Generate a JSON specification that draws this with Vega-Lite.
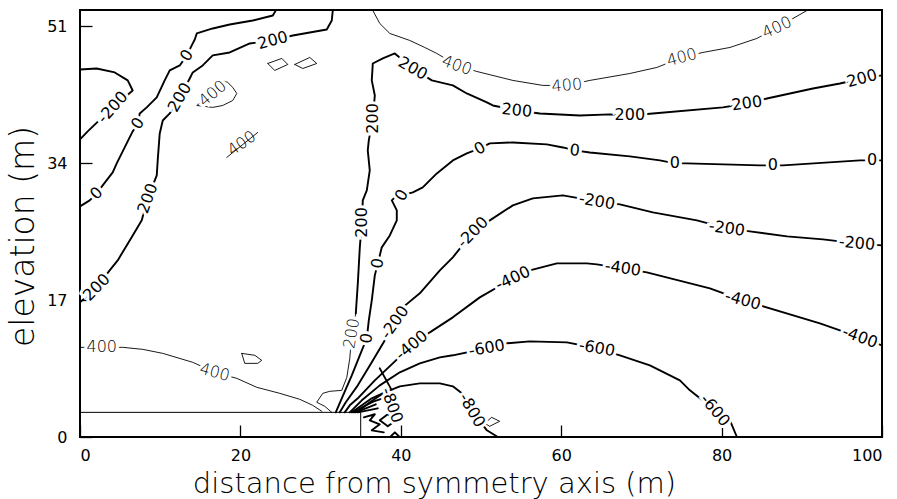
{
  "$schema": "https://vega.github.io/schema/vega-lite/v6.json",
  "width": 802,
  "height": 427,
  "autosize": {"type": "none"},
  "padding": {"left": 80, "top": 10, "right": 15, "bottom": 62},
  "background": "white",
  "config": {
    "view": {"stroke": "black", "strokeWidth": 2},
    "axis": {
      "grid": false,
      "domain": false,
      "tickColor": "black",
      "tickWidth": 1.3,
      "tickSize": -12,
      "labelColor": "black",
      "labelFont": "DejaVu Sans",
      "labelFontSize": 16,
      "titleColor": "black",
      "titleFont": "DejaVu Sans",
      "titleFontWeight": 200
    }
  },
  "datasets": {
    "box": [{"x": 0, "x2": 35, "y": 0, "y2": 3.06}],
    "contours": [
      {"line": "A", "x": 0, "y": 45.62}, {"line": "A", "x": 2.08, "y": 45.74}, {"line": "A", "x": 4.33, "y": 45.25}, {"line": "A", "x": 5.95, "y": 44.26}, {"line": "A", "x": 6.57, "y": 43.01}, {"line": "A", "x": 4.08, "y": 40.91}, {"line": "A", "x": 0.96, "y": 37.93}, {"line": "A", "x": 0, "y": 36.94},
      {"line": "B", "x": 24.41, "y": 52.94}, {"line": "B", "x": 24.04, "y": 52.32}, {"line": "B", "x": 21.54, "y": 51.7}, {"line": "B", "x": 18.67, "y": 51.2}, {"line": "B", "x": 16.55, "y": 50.71}, {"line": "B", "x": 14.56, "y": 50.09}, {"line": "B", "x": 14.31, "y": 49.34}, {"line": "B", "x": 14.06, "y": 48.85}, {"line": "B", "x": 13.31, "y": 47.36}, {"line": "B", "x": 12.44, "y": 46.12}, {"line": "B", "x": 11.19, "y": 45.5}, {"line": "B", "x": 10.56, "y": 44.26}, {"line": "B", "x": 9.57, "y": 42.15}, {"line": "B", "x": 8.32, "y": 40.91}, {"line": "B", "x": 7.45, "y": 40.16}, {"line": "B", "x": 7.2, "y": 38.92}, {"line": "B", "x": 6.57, "y": 37.93}, {"line": "B", "x": 5.82, "y": 36.44}, {"line": "B", "x": 4.58, "y": 33.96}, {"line": "B", "x": 4.08, "y": 32.84}, {"line": "B", "x": 2.83, "y": 31.23}, {"line": "B", "x": 2.08, "y": 30.24}, {"line": "B", "x": 1.21, "y": 29.37}, {"line": "B", "x": 0, "y": 28.62},
      {"line": "C", "x": 31.52, "y": 52.94}, {"line": "C", "x": 31.39, "y": 51.7}, {"line": "C", "x": 30.77, "y": 50.58}, {"line": "C", "x": 28.65, "y": 50.21}, {"line": "C", "x": 26.53, "y": 49.84}, {"line": "C", "x": 24.04, "y": 49.22}, {"line": "C", "x": 21.17, "y": 48.85}, {"line": "C", "x": 18.67, "y": 47.73}, {"line": "C", "x": 16.55, "y": 47.36}, {"line": "C", "x": 15.3, "y": 46.12}, {"line": "C", "x": 14.06, "y": 45.25}, {"line": "C", "x": 13.68, "y": 44.5}, {"line": "C", "x": 12.44, "y": 42.15}, {"line": "C", "x": 11.19, "y": 40.16}, {"line": "C", "x": 10.32, "y": 39.29}, {"line": "C", "x": 9.94, "y": 37.68}, {"line": "C", "x": 9.69, "y": 34.33}, {"line": "C", "x": 9.57, "y": 32.47}, {"line": "C", "x": 8.44, "y": 29.62}, {"line": "C", "x": 7.7, "y": 26.89}, {"line": "C", "x": 6.2, "y": 24.4}, {"line": "C", "x": 4.7, "y": 21.92}, {"line": "C", "x": 3.7, "y": 20.68}, {"line": "C", "x": 2.08, "y": 18.57}, {"line": "C", "x": 0, "y": 16.71},
      {"line": "D", "x": 17.67, "y": 44.26}, {"line": "D", "x": 18.42, "y": 44.01}, {"line": "D", "x": 19.05, "y": 43.39}, {"line": "D", "x": 19.55, "y": 42.64}, {"line": "D", "x": 19.05, "y": 41.77}, {"line": "D", "x": 17.8, "y": 41.15}, {"line": "D", "x": 16.55, "y": 40.91}, {"line": "D", "x": 14.56, "y": 41.15}, {"line": "D", "x": 16.55, "y": 42.64}, {"line": "D", "x": 17.67, "y": 44.26},
      {"line": "E", "x": 18.3, "y": 34.7}, {"line": "E", "x": 22.16, "y": 37.8},
      {"line": "dia1", "x": 23.41, "y": 46.36}, {"line": "dia1", "x": 25.16, "y": 46.99}, {"line": "dia1", "x": 25.91, "y": 46.24}, {"line": "dia1", "x": 24.28, "y": 45.5}, {"line": "dia1", "x": 23.41, "y": 46.36},
      {"line": "dia2", "x": 26.78, "y": 46.24}, {"line": "dia2", "x": 28.65, "y": 47.11}, {"line": "dia2", "x": 29.52, "y": 46.36}, {"line": "dia2", "x": 27.78, "y": 45.74}, {"line": "dia2", "x": 26.78, "y": 46.24},
      {"line": "loop1", "x": 20.17, "y": 10.38}, {"line": "loop1", "x": 21.79, "y": 10.14}, {"line": "loop1", "x": 22.66, "y": 9.52}, {"line": "loop1", "x": 22.16, "y": 9.14}, {"line": "loop1", "x": 20.54, "y": 9.14}, {"line": "loop1", "x": 20.17, "y": 10.38},
      {"line": "F", "x": 0, "y": 11.13}, {"line": "F", "x": 5.33, "y": 11.13}, {"line": "F", "x": 7.82, "y": 10.88}, {"line": "F", "x": 10.32, "y": 10.38}, {"line": "F", "x": 14.06, "y": 9.27}, {"line": "F", "x": 16.8, "y": 8.03}, {"line": "F", "x": 19.55, "y": 7.28}, {"line": "F", "x": 22.04, "y": 6.17}, {"line": "F", "x": 24.91, "y": 5.42}, {"line": "F", "x": 27.4, "y": 4.68}, {"line": "F", "x": 29.02, "y": 3.93}, {"line": "F", "x": 30.15, "y": 3.19},
      {"line": "H", "x": 36.51, "y": 52.94}, {"line": "H", "x": 37.38, "y": 51.33}, {"line": "H", "x": 38.63, "y": 50.09}, {"line": "H", "x": 41.12, "y": 49.22}, {"line": "H", "x": 42.99, "y": 48.35}, {"line": "H", "x": 44.49, "y": 47.61}, {"line": "H", "x": 46.99, "y": 46.12}, {"line": "H", "x": 49.48, "y": 45.37}, {"line": "H", "x": 53.97, "y": 44.26}, {"line": "H", "x": 57.71, "y": 43.64}, {"line": "H", "x": 60.71, "y": 43.64}, {"line": "H", "x": 63.57, "y": 44.26}, {"line": "H", "x": 68.56, "y": 45.12}, {"line": "H", "x": 71.93, "y": 45.87}, {"line": "H", "x": 75.05, "y": 47.11}, {"line": "H", "x": 77.67, "y": 47.73}, {"line": "H", "x": 81.04, "y": 48.35}, {"line": "H", "x": 84.4, "y": 49.47}, {"line": "H", "x": 86.9, "y": 50.83}, {"line": "H", "x": 89.77, "y": 52.44}, {"line": "H", "x": 90.64, "y": 52.94},
      {"line": "G", "x": 100, "y": 44.88}, {"line": "G", "x": 97.5, "y": 44.5}, {"line": "G", "x": 94.76, "y": 43.88}, {"line": "G", "x": 91.39, "y": 43.26}, {"line": "G", "x": 85.65, "y": 42.02}, {"line": "G", "x": 83.16, "y": 41.4}, {"line": "G", "x": 80.16, "y": 40.91}, {"line": "G", "x": 71.43, "y": 40.16}, {"line": "G", "x": 68.56, "y": 39.91}, {"line": "G", "x": 66.07, "y": 40.04}, {"line": "G", "x": 62.33, "y": 39.91}, {"line": "G", "x": 57.34, "y": 40.16}, {"line": "G", "x": 54.47, "y": 40.53}, {"line": "G", "x": 51.48, "y": 41.15}, {"line": "G", "x": 50.73, "y": 41.53}, {"line": "G", "x": 48.23, "y": 42.64}, {"line": "G", "x": 46.49, "y": 43.64}, {"line": "G", "x": 43.87, "y": 44.26}, {"line": "G", "x": 41.5, "y": 45.74}, {"line": "G", "x": 39.25, "y": 47.61}, {"line": "G", "x": 37.76, "y": 46.99}, {"line": "G", "x": 36.51, "y": 46.36}, {"line": "G", "x": 36.38, "y": 44.26}, {"line": "G", "x": 36.76, "y": 42.39}, {"line": "G", "x": 36.51, "y": 39.54}, {"line": "G", "x": 36.01, "y": 36.81}, {"line": "G", "x": 35.88, "y": 35.57}, {"line": "G", "x": 36.13, "y": 33.09}, {"line": "G", "x": 35.76, "y": 30.61}, {"line": "G", "x": 35.26, "y": 29.37}, {"line": "G", "x": 35.14, "y": 26.64}, {"line": "G", "x": 34.89, "y": 23.54}, {"line": "G", "x": 34.64, "y": 19.07}, {"line": "G", "x": 34.39, "y": 15.35},
      {"line": "G2", "x": 34.39, "y": 15.35}, {"line": "G2", "x": 33.89, "y": 12.87}, {"line": "G2", "x": 33.64, "y": 9.76}, {"line": "G2", "x": 33.27, "y": 7.41}, {"line": "G2", "x": 32.64, "y": 5.79}, {"line": "G2", "x": 31.14, "y": 5.67}, {"line": "G2", "x": 30.27, "y": 5.42}, {"line": "G2", "x": 29.52, "y": 4.31}, {"line": "G2", "x": 30.52, "y": 3.81}, {"line": "G2", "x": 31.39, "y": 3.06},
      {"line": "I", "x": 100, "y": 34.33}, {"line": "I", "x": 98.75, "y": 34.33}, {"line": "I", "x": 97.25, "y": 34.33}, {"line": "I", "x": 87.65, "y": 33.71}, {"line": "I", "x": 86.4, "y": 33.71}, {"line": "I", "x": 84.78, "y": 33.71}, {"line": "I", "x": 75.67, "y": 33.96}, {"line": "I", "x": 74.18, "y": 33.96}, {"line": "I", "x": 72.31, "y": 34.33}, {"line": "I", "x": 68.56, "y": 34.83}, {"line": "I", "x": 63.57, "y": 35.32}, {"line": "I", "x": 61.7, "y": 35.57}, {"line": "I", "x": 60.21, "y": 35.94}, {"line": "I", "x": 58.21, "y": 36.32}, {"line": "I", "x": 53.97, "y": 36.56}, {"line": "I", "x": 51.1, "y": 36.44}, {"line": "I", "x": 49.85, "y": 35.82}, {"line": "I", "x": 48.23, "y": 35.2}, {"line": "I", "x": 46.49, "y": 34.33}, {"line": "I", "x": 44.49, "y": 32.72}, {"line": "I", "x": 42.74, "y": 30.98}, {"line": "I", "x": 41.5, "y": 30.36}, {"line": "I", "x": 40.12, "y": 29.99}, {"line": "I", "x": 39.25, "y": 29.74}, {"line": "I", "x": 38.88, "y": 29.37}, {"line": "I", "x": 39.5, "y": 28.13}, {"line": "I", "x": 39.5, "y": 26.89}, {"line": "I", "x": 38.63, "y": 25.02}, {"line": "I", "x": 37.63, "y": 23.54}, {"line": "I", "x": 37.13, "y": 21.55}, {"line": "I", "x": 36.76, "y": 20.06}, {"line": "I", "x": 36.38, "y": 16.96}, {"line": "I", "x": 36.01, "y": 14.48}, {"line": "I", "x": 35.76, "y": 12.25}, {"line": "I", "x": 35.14, "y": 10.76}, {"line": "I", "x": 33.89, "y": 7.66}, {"line": "I", "x": 32.64, "y": 4.8}, {"line": "I", "x": 31.89, "y": 3.06},
      {"line": "J", "x": 100, "y": 23.78}, {"line": "J", "x": 96.88, "y": 24.03}, {"line": "J", "x": 92.64, "y": 24.53}, {"line": "J", "x": 88.15, "y": 24.9}, {"line": "J", "x": 83.53, "y": 25.52}, {"line": "J", "x": 80.66, "y": 25.89}, {"line": "J", "x": 76.92, "y": 26.89}, {"line": "J", "x": 71.43, "y": 27.88}, {"line": "J", "x": 67.32, "y": 28.87}, {"line": "J", "x": 64.45, "y": 29.24}, {"line": "J", "x": 60.21, "y": 29.99}, {"line": "J", "x": 56.46, "y": 29.62}, {"line": "J", "x": 53.97, "y": 28.75}, {"line": "J", "x": 51.1, "y": 26.89}, {"line": "J", "x": 48.98, "y": 25.4}, {"line": "J", "x": 46.49, "y": 22.3}, {"line": "J", "x": 44.87, "y": 20.68}, {"line": "J", "x": 42.37, "y": 17.83}, {"line": "J", "x": 40.25, "y": 16.09}, {"line": "J", "x": 39.25, "y": 14.23}, {"line": "J", "x": 38.01, "y": 12.0}, {"line": "J", "x": 36.38, "y": 9.27}, {"line": "J", "x": 34.64, "y": 6.41}, {"line": "J", "x": 33.14, "y": 4.31}, {"line": "J", "x": 32.39, "y": 3.06},
      {"line": "K", "x": 100, "y": 11.38}, {"line": "K", "x": 97.25, "y": 12.37}, {"line": "K", "x": 92.26, "y": 14.11}, {"line": "K", "x": 84.78, "y": 16.34}, {"line": "K", "x": 82.66, "y": 16.96}, {"line": "K", "x": 78.54, "y": 18.45}, {"line": "K", "x": 70.68, "y": 20.43}, {"line": "K", "x": 67.69, "y": 20.93}, {"line": "K", "x": 64.45, "y": 21.43}, {"line": "K", "x": 63.2, "y": 21.55}, {"line": "K", "x": 59.46, "y": 21.55}, {"line": "K", "x": 56.09, "y": 20.68}, {"line": "K", "x": 53.97, "y": 19.69}, {"line": "K", "x": 49.85, "y": 17.33}, {"line": "K", "x": 46.49, "y": 14.85}, {"line": "K", "x": 43.62, "y": 12.99}, {"line": "K", "x": 41.37, "y": 11.38}, {"line": "K", "x": 39.0, "y": 9.14}, {"line": "K", "x": 36.76, "y": 7.03}, {"line": "K", "x": 34.64, "y": 4.8}, {"line": "K", "x": 33.64, "y": 3.93}, {"line": "K", "x": 33.01, "y": 3.06},
      {"line": "L", "x": 33.64, "y": 3.06}, {"line": "L", "x": 35.14, "y": 4.55}, {"line": "L", "x": 37.38, "y": 6.41}, {"line": "L", "x": 39.88, "y": 8.03}, {"line": "L", "x": 42.37, "y": 9.14}, {"line": "L", "x": 44.87, "y": 9.89}, {"line": "L", "x": 46.49, "y": 10.14}, {"line": "L", "x": 50.73, "y": 11.01}, {"line": "L", "x": 53.22, "y": 11.63}, {"line": "L", "x": 56.09, "y": 11.87}, {"line": "L", "x": 60.71, "y": 11.75}, {"line": "L", "x": 64.45, "y": 11.01}, {"line": "L", "x": 67.32, "y": 10.14}, {"line": "L", "x": 71.06, "y": 8.9}, {"line": "L", "x": 74.8, "y": 7.03}, {"line": "L", "x": 76.05, "y": 5.79}, {"line": "L", "x": 79.17, "y": 3.31}, {"line": "L", "x": 81.04, "y": 2.07}, {"line": "L", "x": 81.91, "y": 0},
      {"line": "M", "x": 34.89, "y": 3.31}, {"line": "M", "x": 36.13, "y": 4.31}, {"line": "M", "x": 38.01, "y": 5.55}, {"line": "M", "x": 39.88, "y": 6.29}, {"line": "M", "x": 42.37, "y": 6.66}, {"line": "M", "x": 44.87, "y": 6.66}, {"line": "M", "x": 46.49, "y": 6.29}, {"line": "M", "x": 47.61, "y": 5.42}, {"line": "M", "x": 48.86, "y": 3.31}, {"line": "M", "x": 50.73, "y": 0.83}, {"line": "M", "x": 52.1, "y": 0},
      {"line": "N1", "x": 33.89, "y": 3.06}, {"line": "N1", "x": 35.14, "y": 3.93}, {"line": "N1", "x": 36.38, "y": 4.8}, {"line": "N1", "x": 38.01, "y": 5.55},
      {"line": "N2", "x": 34.14, "y": 3.06}, {"line": "N2", "x": 35.39, "y": 3.81}, {"line": "N2", "x": 36.63, "y": 4.43}, {"line": "N2", "x": 38.13, "y": 4.92},
      {"line": "N3", "x": 34.39, "y": 3.06}, {"line": "N3", "x": 35.64, "y": 3.56}, {"line": "N3", "x": 36.88, "y": 4.06},
      {"line": "N4", "x": 34.64, "y": 3.06}, {"line": "N4", "x": 35.89, "y": 3.31}, {"line": "N4", "x": 37.13, "y": 3.56},
      {"line": "hook", "x": 35.39, "y": 2.44}, {"line": "hook", "x": 36.76, "y": 2.82}, {"line": "hook", "x": 36.13, "y": 2.07}, {"line": "hook", "x": 37.38, "y": 1.58}, {"line": "hook", "x": 36.38, "y": 0.83}, {"line": "hook", "x": 37.88, "y": 0.58},
      {"line": "dia3", "x": 37.38, "y": 2.07}, {"line": "dia3", "x": 38.38, "y": 2.82}, {"line": "dia3", "x": 39.38, "y": 2.07}, {"line": "dia3", "x": 38.38, "y": 1.32}, {"line": "dia3", "x": 37.38, "y": 2.07},
      {"line": "slash", "x": 37.38, "y": 8.52}, {"line": "slash", "x": 38.88, "y": 5.79},
      {"line": "caret", "x": 38.76, "y": 0.09}, {"line": "caret", "x": 39.26, "y": 0.58}, {"line": "caret", "x": 39.76, "y": 0.09},
      {"line": "dia4", "x": 50.46, "y": 1.7}, {"line": "dia4", "x": 51.33, "y": 2.44}, {"line": "dia4", "x": 52.33, "y": 1.95}, {"line": "dia4", "x": 51.08, "y": 1.33}, {"line": "dia4", "x": 50.46, "y": 1.7}
    ],
    "labelsThick": [
      {"text": "-200", "x": 4.08, "y": 40.91, "angle": -48},
      {"text": "0", "x": 13.31, "y": 47.36, "angle": -55},
      {"text": "0", "x": 7.2, "y": 38.92, "angle": -55},
      {"text": "0", "x": 2.08, "y": 30.24, "angle": -45},
      {"text": "200", "x": 24.04, "y": 49.22, "angle": -15},
      {"text": "200", "x": 12.44, "y": 42.15, "angle": -60},
      {"text": "200", "x": 8.44, "y": 29.62, "angle": -70},
      {"text": "200", "x": 2.08, "y": 18.57, "angle": -45},
      {"text": "200", "x": 97.5, "y": 44.5, "angle": -15},
      {"text": "200", "x": 83.16, "y": 41.4, "angle": -8},
      {"text": "200", "x": 68.56, "y": 39.91, "angle": 0},
      {"text": "200", "x": 54.47, "y": 40.53, "angle": 5},
      {"text": "200", "x": 41.5, "y": 45.74, "angle": 30},
      {"text": "200", "x": 36.51, "y": 39.54, "angle": -90},
      {"text": "200", "x": 35.14, "y": 26.64, "angle": -90},
      {"text": "0", "x": 98.75, "y": 34.33, "angle": 0},
      {"text": "0", "x": 86.4, "y": 33.71, "angle": 0},
      {"text": "0", "x": 74.18, "y": 33.96, "angle": 0},
      {"text": "0", "x": 61.7, "y": 35.57, "angle": 5},
      {"text": "0", "x": 49.85, "y": 35.82, "angle": -30},
      {"text": "0", "x": 40.12, "y": 29.99, "angle": -60},
      {"text": "0", "x": 37.13, "y": 21.55, "angle": -80},
      {"text": "0", "x": 35.76, "y": 12.25, "angle": -80},
      {"text": "-200", "x": 96.88, "y": 24.03, "angle": 5},
      {"text": "-200", "x": 80.66, "y": 25.89, "angle": 8},
      {"text": "-200", "x": 64.45, "y": 29.24, "angle": 10},
      {"text": "-200", "x": 48.98, "y": 25.4, "angle": -45},
      {"text": "-200", "x": 39.25, "y": 14.23, "angle": -55},
      {"text": "-400", "x": 97.25, "y": 12.37, "angle": 20},
      {"text": "-400", "x": 82.66, "y": 16.96, "angle": 15},
      {"text": "-400", "x": 67.69, "y": 20.93, "angle": 8},
      {"text": "-400", "x": 53.97, "y": 19.69, "angle": -25},
      {"text": "-400", "x": 41.37, "y": 11.38, "angle": -40},
      {"text": "-600", "x": 79.17, "y": 3.31, "angle": 50},
      {"text": "-600", "x": 64.45, "y": 11.01, "angle": 10},
      {"text": "-600", "x": 50.73, "y": 11.01, "angle": -10},
      {"text": "-800", "x": 48.86, "y": 3.31, "angle": 60},
      {"text": "-800", "x": 38.88, "y": 3.93, "angle": 70}
    ],
    "labelsThin": [
      {"text": "400", "x": 16.55, "y": 42.64, "angle": -40},
      {"text": "400", "x": 2.71, "y": 11.13, "angle": 0},
      {"text": "400", "x": 16.8, "y": 8.03, "angle": 15},
      {"text": "400", "x": 46.99, "y": 46.12, "angle": 20},
      {"text": "400", "x": 60.71, "y": 43.64, "angle": -5},
      {"text": "400", "x": 75.05, "y": 47.11, "angle": -15},
      {"text": "400", "x": 86.9, "y": 50.83, "angle": -25},
      {"text": "200", "x": 33.89, "y": 12.87, "angle": -80}
    ],
    "labelsCrossed": [
      {"text": "400", "x": 20.17, "y": 36.44, "angle": -35}
    ]
  },
  "encoding": {
    "x": {
      "field": "x",
      "type": "quantitative",
      "scale": {"domain": [0, 100], "nice": false, "zero": false},
      "axis": {
        "values": [0, 20, 40, 60, 80, 100],
        "labelPadding": 22,
        "title": "distance from symmetry axis (m)",
        "titleFontSize": 29,
        "titleX": 354,
        "titlePadding": 6
      }
    },
    "y": {
      "field": "y",
      "type": "quantitative",
      "scale": {"domain": [0, 53], "nice": false, "zero": false},
      "axis": {
        "values": [0, 17, 34, 51],
        "labelPadding": 25,
        "title": "elevation (m)",
        "titleFontSize": 33,
        "titlePadding": 6,
        "titleY": 226
      }
    }
  },
  "layer": [
    {
      "data": {"name": "box"},
      "mark": {"type": "rect", "fill": "white", "fillOpacity": 0, "stroke": "black", "strokeWidth": 1},
      "encoding": {
        "x2": {"field": "x2"},
        "y2": {"field": "y2"}
      }
    },
    {
      "data": {"name": "contours"},
      "mark": {"type": "line", "color": "black", "strokeJoin": "round", "strokeCap": "round"},
      "encoding": {
        "detail": {"field": "line", "type": "nominal"},
        "order": {"value": null},
        "strokeWidth": {
          "condition": {"test": "indexof(['D','E','F','H','G2','dia1','dia2','loop1','dia4'], datum.line) >= 0", "value": 0.9},
          "value": 1.9
        }
      }
    },
    {
      "data": {"name": "labelsThick"},
      "mark": {"type": "text", "font": "DejaVu Sans", "fontSize": 16, "fill": "white", "stroke": "white", "strokeWidth": 6, "align": "center", "baseline": "middle"},
      "encoding": {
        "text": {"field": "text"},
        "angle": {"field": "angle", "type": "quantitative", "scale": null}
      }
    },
    {
      "data": {"name": "labelsThin"},
      "mark": {"type": "text", "font": "DejaVu Sans", "fontSize": 16, "fill": "white", "stroke": "white", "strokeWidth": 6, "align": "center", "baseline": "middle"},
      "encoding": {
        "text": {"field": "text"},
        "angle": {"field": "angle", "type": "quantitative", "scale": null}
      }
    },
    {
      "data": {"name": "labelsThick"},
      "mark": {"type": "text", "font": "DejaVu Sans", "fontSize": 16, "fill": "black", "align": "center", "baseline": "middle"},
      "encoding": {
        "text": {"field": "text"},
        "angle": {"field": "angle", "type": "quantitative", "scale": null}
      }
    },
    {
      "data": {"name": "labelsThin"},
      "mark": {"type": "text", "font": "DejaVu Sans", "fontSize": 16, "fontWeight": 200, "fill": "black", "align": "center", "baseline": "middle"},
      "encoding": {
        "text": {"field": "text"},
        "angle": {"field": "angle", "type": "quantitative", "scale": null}
      }
    },
    {
      "data": {"name": "labelsCrossed"},
      "mark": {"type": "text", "font": "DejaVu Sans", "fontSize": 16, "fontWeight": 200, "fill": "black", "align": "center", "baseline": "middle"},
      "encoding": {
        "text": {"field": "text"},
        "angle": {"field": "angle", "type": "quantitative", "scale": null}
      }
    }
  ]
}
